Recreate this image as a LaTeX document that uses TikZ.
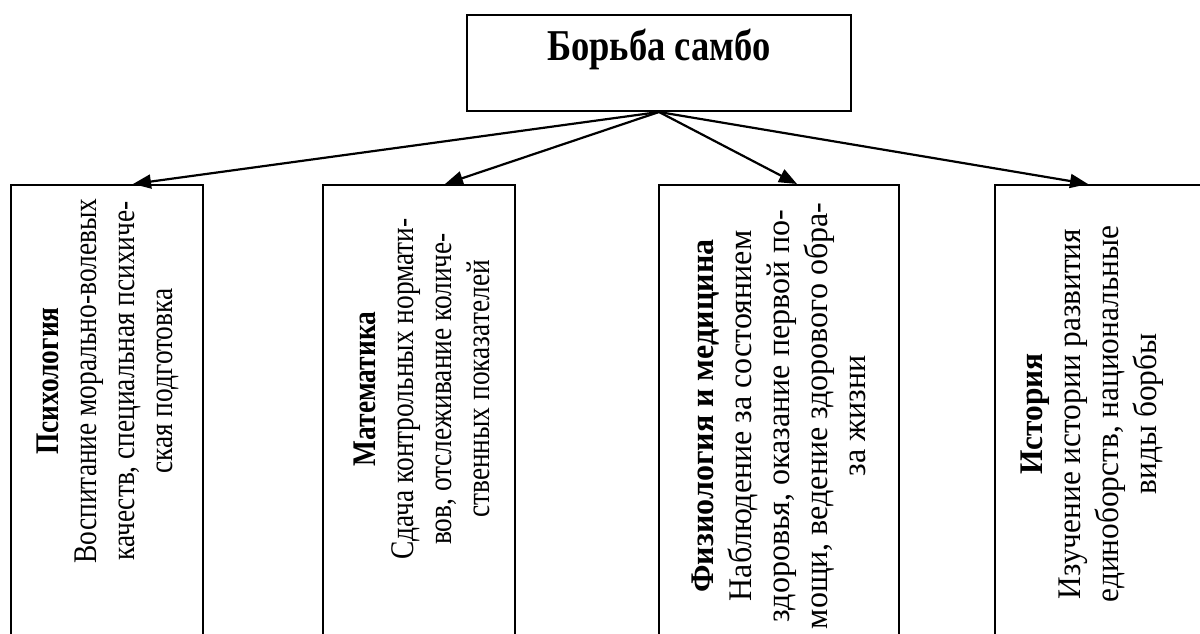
\documentclass[tikz,border=0pt]{standalone}
\usepackage{fontspec}
\setmainfont{Liberation Serif}
\newfontfamily\narrowserif{Liberation Serif}[FakeStretch=0.83]
\newfontfamily\physserif{Liberation Serif}[FakeStretch=0.97]
\newfontfamily\histserif{Liberation Serif}[FakeStretch=0.95]
\usetikzlibrary{arrows.meta}
\tikzstyle{head} = [rectangle,draw=black,line width=2pt,minimum width=384pt,minimum height=96pt]
\tikzstyle{branch} = [rectangle,draw=black,line width=2pt,minimum height=520pt,anchor=north]
\tikzstyle{title} = [font=\fontsize{44}{50}\narrowserif\bfseries]
\tikzstyle{vtext} = [rotate=90,align=center,inner sep=0pt,font=\fontsize{33}{38}\selectfont]
\tikzstyle{narrow} = [font=\fontsize{33}{38}\narrowserif]
\tikzstyle{link} = [-{Triangle[length=18pt,width=14pt]},line width=2.2pt]

\begin{document}
\begin{tikzpicture}[x=1pt,y=-1pt]
    \clip (0,0) rectangle (1200,634);

    % Top
    \node[head] (root) at (659,63) {};
    \node[title] (rootT) at (659,49) {Борьба самбо};

    % Branches
    \node[branch,minimum width=192pt] (psy) at (107,184) {};
    \node[branch,minimum width=192pt] (math) at (419,184) {};
    \node[branch,minimum width=240pt] (phys) at (779,184) {};
    \node[branch,minimum width=232pt] (hist) at (1111,184) {};

    % Texts
    \node[vtext,narrow] (psyT) at (108,381) {\textbf{Психология}\\Воспитание морально-волевых\\качеств, специальная психиче-\\ская подготовка};
    \node[vtext,narrow] (mathT) at (422,389) {\textbf{Математика}\\Сдача контрольных нормати-\\вов, отслеживание количе-\\ственных показателей};
    \node[vtext,font=\fontsize{33}{38}\physserif] (physT) at (779,416) {\textbf{Физиология и медицина}\\Наблюдение за состоянием\\здоровья, оказание первой по-\\мощи, ведение здорового обра-\\за жизни};
    \node[vtext,font=\fontsize{33}{38}\histserif] (histT) at (1092,414) {\textbf{История}\\Изучение истории развития\\единоборств, национальные\\виды борбы};

    % arrow
    \draw[link] (root.south) -- ([xshift=26pt]psy.north);
    \draw[link] (root.south) -- ([xshift=26pt]math.north);
    \draw[link] (root.south) -- ([xshift=18pt]phys.north);
    \draw[link] (root.south) -- ([xshift=-23pt]hist.north);
\end{tikzpicture}
\end{document}
